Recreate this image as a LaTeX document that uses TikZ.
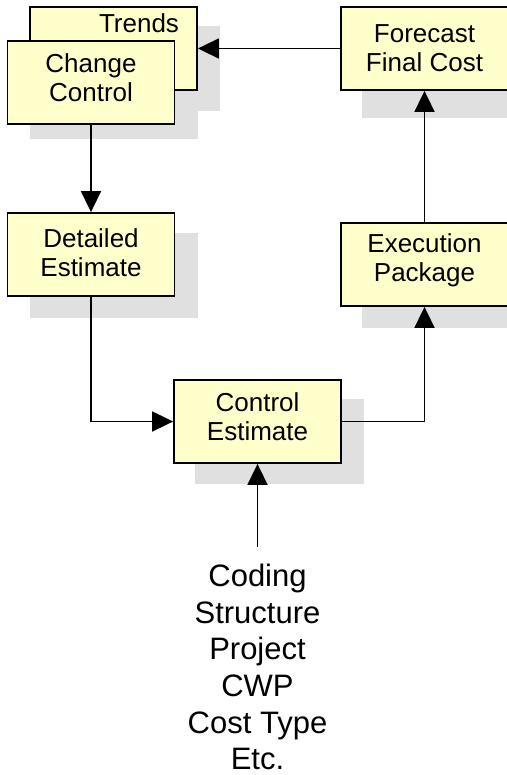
\documentclass[tikz,border=0pt]{standalone}
\usepackage{fontspec}
\setmainfont{Liberation Sans}
\usetikzlibrary{arrows.meta,calc}
\definecolor{boxfill}{HTML}{FFFFCC}
\definecolor{shadecol}{HTML}{E0E0E0}
\pgfdeclarelayer{bg}
\pgfsetlayers{bg,main}
\begin{document}
\begin{tikzpicture}[x=1pt,y=-1pt,
  box/.style={draw=black, line width=1.8pt, fill=boxfill, minimum width=167pt,
    minimum height=83pt, inner sep=0pt},
  boxtxt/.style={align=center, inner sep=0pt, font=\fontsize{26}{29}\selectfont},
  conn/.style={line width=1.7pt, -{Triangle[length=21pt,width=20pt]}},
  shadow/.style={fill=shadecol}]
\useasboundingbox (0,0) rectangle (506,775);
% boxes
\node[box] (trends) at (113.5,48.5) {};
\node[anchor=base, boxtxt] (trendstxt) at (139,33) {Trends};
\node[box, label={[boxtxt, yshift=5pt]center:{Change\\Control}}] (cc) at (91,82.5) {};
\node[box, label={[boxtxt, yshift=2pt]center:{Detailed\\Estimate}}] (de) at (91,254.5) {};
\node[box, label={[boxtxt, yshift=5pt]center:{Control\\Estimate}}] (ce) at (257.5,421.5) {};
\node[box, label={[boxtxt, yshift=4pt]center:{Execution\\Package}}] (ep) at (424.5,264.5) {};
\node[box, label={[boxtxt]center:{Forecast\\Final Cost}}] (fc) at (424.5,48.5) {};
% shadows
\begin{pgfonlayer}{bg}
\fill[shadow] ($(trends.north west)+(22,20)$) rectangle ($(trends.south east)+(22,20)$);
\fill[shadow] ($(cc.north west)+(23,14)$) rectangle ($(cc.south east)+(23,14)$);
\fill[shadow] ($(de.north west)+(23,21)$) rectangle ($(de.south east)+(23,21)$);
\fill[shadow] ($(ce.north west)+(22,20)$) rectangle ($(ce.south east)+(22,20)$);
\fill[shadow] ($(ep.north west)+(22,21)$) rectangle ($(ep.south east)+(22,21)$);
\fill[shadow] ($(fc.north west)+(22,27)$) rectangle ($(fc.south east)+(22,27)$);
\end{pgfonlayer}
% bottom text
\node[anchor=north, inner sep=0pt, align=center, font=\fontsize{31}{36.6}\selectfont] (codes) at (257.5,564)
  {Coding\\Structure\\Project\\CWP\\Cost Type\\Etc.};
\coordinate (src) at (257.5,547);
% connectors
\draw[conn] (fc.west) -- (fc.west -| trends.east);
\draw[conn] (cc.south) -- (de.north);
\draw[conn] (de.south) |- (ce.west);
\draw[conn] (ce.east) -| (ep.south);
\draw[conn] (ep.north) -- (fc.south);
\draw[conn] (src) -- (ce.south);
\end{tikzpicture}
\end{document}
